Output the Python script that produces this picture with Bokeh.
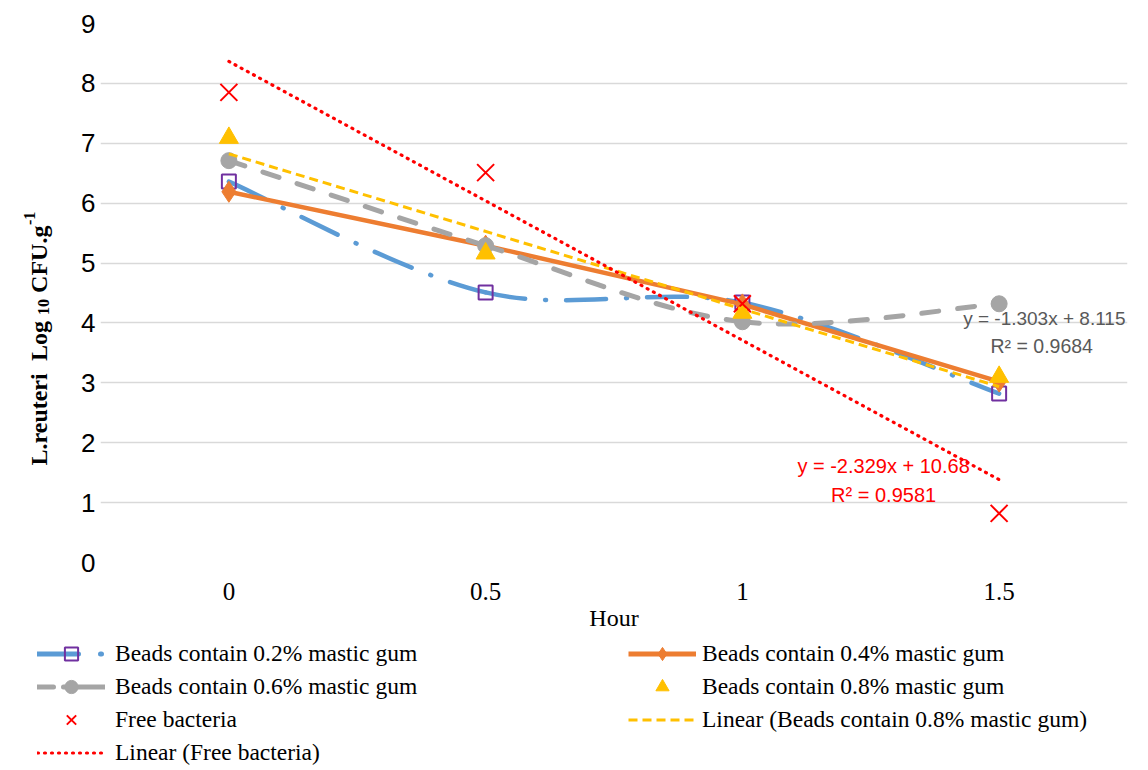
import numpy as np
from math import pi
from bokeh.plotting import figure
from bokeh.layouts import row, column
from bokeh.models import Label, Legend, LegendItem, FixedTicker, Range1d
from bokeh.embed import file_html
from bokeh.resources import INLINE

# ---------------- data ----------------
hours = [0, 0.5, 1, 1.5]
hour_labels = ["0", "0.5", "1", "1.5"]
gum_02 = [6.36, 4.51, 4.34, 2.82]
gum_04 = [6.19, 5.29, 4.31, 3.02]
gum_06 = [6.71, 5.29, 4.02, 4.32]
gum_08 = [7.09, 5.16, 4.17, 3.10]
free_bacteria = [7.85, 6.51, 4.32, 0.82]
y_ticks = [0, 1, 2, 3, 4, 5, 6, 7, 8, 9]
eq_gum_08 = ["y = -1.303x + 8.115", "R² = 0.9684"]
eq_free = ["y = -2.329x + 10.68", "R² = 0.9581"]
series_names = ["Beads contain 0.2% mastic gum", "Beads contain 0.4% mastic gum",
                "Beads contain 0.6% mastic gum", "Beads contain 0.8% mastic gum",
                "Free bacteria", "Linear (Beads contain 0.8% mastic gum)",
                "Linear (Free bacteria)"]
y_title_parts = ["L.reuteri", "Log", "10", "CFU.g", "-1"]

BLUE = "#5B9BD5"
ORANGE = "#ED7D31"
GRAY = "#A5A5A5"
YELLOW = "#FFC000"
RED = "#FF0000"
PURPLE = "#7030A0"

W_ALL = 1148
W_TITLE = 62
H_TOP = 636
H_LEG = 134
TOP, BOTTOM = 23, 74          # frame borders of the main plot
PX_PER_Y = (H_TOP - TOP - BOTTOM) / 9.0


def smooth(xs, ys, t=1.0 / 6.0):
    """Catmull-Rom style smoothing (as spreadsheet 'smoothed line')."""
    xs = np.asarray(xs, float)
    ys = np.asarray(ys, float)
    n = len(xs)
    out = dict(x0=[], y0=[], x1=[], y1=[], cx0=[], cy0=[], cx1=[], cy1=[])
    for i in range(n - 1):
        a = max(i - 1, 0)
        d = min(i + 2, n - 1)
        out["x0"].append(xs[i]); out["y0"].append(ys[i])
        out["x1"].append(xs[i + 1]); out["y1"].append(ys[i + 1])
        out["cx0"].append(xs[i] + (xs[i + 1] - xs[a]) * t)
        out["cy0"].append(ys[i] + (ys[i + 1] - ys[a]) * t)
        out["cx1"].append(xs[i + 1] - (xs[d] - xs[i]) * t)
        out["cy1"].append(ys[i + 1] - (ys[d] - ys[i]) * t)
    return out


# ======================= main plot =======================
p = figure(width=W_ALL - W_TITLE, height=H_TOP, x_range=Range1d(-0.25, 1.75),
           y_range=Range1d(0, 9), output_backend="svg", toolbar_location=None,
           min_border_left=100 - W_TITLE, min_border_right=21, min_border_top=TOP,
           min_border_bottom=BOTTOM)
p.outline_line_color = None
p.background_fill_color = "white"

p.xaxis.ticker = FixedTicker(ticks=hours)
p.xaxis.major_label_overrides = {h: l for h, l in zip(hours, hour_labels)}
p.xaxis.axis_line_color = None
p.xaxis.major_tick_line_color = None
p.xaxis.minor_tick_line_color = None
p.xaxis.major_tick_out = 0
p.xaxis.major_tick_in = 0
p.xaxis.major_label_standoff = 20
p.xaxis.major_label_text_font = "Liberation Serif"
p.xaxis.major_label_text_font_size = "25px"
p.xaxis.major_label_text_color = "black"
p.xaxis.axis_label = "Hour"
p.xaxis.axis_label_text_font = "Liberation Serif"
p.xaxis.axis_label_text_font_size = "24px"
p.xaxis.axis_label_text_font_style = "normal"
p.xaxis.axis_label_text_color = "black"
p.xaxis.axis_label_standoff = 2

p.yaxis.ticker = FixedTicker(ticks=y_ticks)
p.yaxis.axis_line_color = None
p.yaxis.major_tick_line_color = None
p.yaxis.minor_tick_line_color = None
p.yaxis.major_tick_out = 0
p.yaxis.major_tick_in = 0
p.yaxis.major_label_standoff = 5
p.yaxis.major_label_text_font = "Liberation Sans"
p.yaxis.major_label_text_font_size = "26px"
p.yaxis.major_label_text_color = "black"

p.xgrid.grid_line_color = None
p.ygrid.grid_line_color = "#D9D9D9"
p.ygrid.grid_line_width = 1.5

s02 = smooth(hours, gum_02)
p.bezier(x0=s02["x0"], y0=s02["y0"], x1=s02["x1"], y1=s02["y1"],
         cx0=s02["cx0"], cy0=s02["cy0"], cx1=s02["cx1"], cy1=s02["cy1"],
         line_color=BLUE, line_width=4.5, line_dash="40 20 1 20", line_cap="round")
p.scatter(hours, gum_02, marker="square", size=14, line_color=PURPLE, line_width=2,
          fill_color=None)

p.line(hours, gum_04, line_color=ORANGE, line_width=4.5)
p.scatter(hours, gum_04, marker="diamond", size=21, line_color=ORANGE, fill_color=ORANGE)

s06 = smooth(hours, gum_06)
p.bezier(x0=s06["x0"], y0=s06["y0"], x1=s06["x1"], y1=s06["y1"],
         cx0=s06["cx0"], cy0=s06["cy0"], cx1=s06["cx1"], cy1=s06["cy1"],
         line_color=GRAY, line_width=5, line_dash="17 19", line_cap="round")
p.scatter(hours, gum_06, marker="circle", size=16, line_color=GRAY, fill_color=GRAY)

p.scatter(hours, gum_08, marker="triangle", size=19, line_color=YELLOW, fill_color=YELLOW)

p.scatter(hours, free_bacteria, marker="x", size=24, line_color=RED, line_width=2)

# linear trend lines (least squares on the data)
h = np.asarray(hours, float)
k8, b8 = np.polyfit(h, np.asarray(gum_08, float), 1)
kf, bf = np.polyfit(h, np.asarray(free_bacteria, float), 1)
t_ends = [hours[0], hours[-1]]
p.line(t_ends, [k8 * tt + b8 for tt in t_ends], line_color=YELLOW, line_width=3,
       line_dash="9 5")
p.line(t_ends, [kf * tt + bf for tt in t_ends], line_color=RED, line_width=3.2,
       line_dash="1 6", line_cap="round")

eq_style = dict(text_align="center", text_baseline="middle", text_font="Liberation Sans")
p.add_layout(Label(x=1.588, y=4.074, text=eq_gum_08[0], text_color="#595959",
                   text_font_size="19px", **eq_style))
p.add_layout(Label(x=1.583, y=3.623, text=eq_gum_08[1], text_color="#595959",
                   text_font_size="19.5px", **eq_style))
p.add_layout(Label(x=1.275, y=1.603, text=eq_free[0], text_color=RED,
                   text_font_size="20px", **eq_style))
p.add_layout(Label(x=1.275, y=1.135, text=eq_free[1], text_color=RED,
                   text_font_size="20px", **eq_style))

# ======================= y-axis title panel =======================
t = figure(width=W_TITLE, height=H_TOP, x_range=Range1d(0, W_TITLE),
           y_range=Range1d(0, 9), x_axis_type=None, y_axis_type=None,
           output_backend="svg", toolbar_location=None, min_border=0,
           min_border_top=TOP, min_border_bottom=BOTTOM)
t.outline_line_color = None
t.xgrid.visible = False
t.ygrid.visible = False
start_y = 97.0 / PX_PER_Y
# (text, pixel offset along the text, sideways shift, font size)
title_layout = [(y_title_parts[0], 0, 0, "24px"), (y_title_parts[1], 104.6, 0, "24px"),
                (y_title_parts[2], 150.6, 5, "16px"), (y_title_parts[3], 172.6, 0, "24px"),
                (y_title_parts[4], 240.5, -9, "16px")]
for txt, dy, dx, fs in title_layout:
    t.add_layout(Label(x=38 + dx, y=start_y + dy / PX_PER_Y, text=txt, angle=pi / 2,
                       text_align="left", text_baseline="alphabetic",
                       text_font="Liberation Serif", text_font_style="bold",
                       text_font_size=fs, text_color="black"))

# ======================= legend panel =======================
lg = figure(width=W_ALL, height=H_LEG, x_range=Range1d(0, 1), y_range=Range1d(0, 1),
            x_axis_type=None, y_axis_type=None, output_backend="svg",
            toolbar_location=None, min_border=0)
lg.outline_line_color = None
lg.xgrid.visible = False
lg.ygrid.visible = False
off = ([-5, -4], [-5, -5])
r_blue = lg.line(*off, line_color=BLUE, line_width=5, line_dash="41 22 1 20",
                 line_cap="round")
r_sq = lg.scatter([-5], [-5], marker="square", line_color=PURPLE, line_width=2,
                  fill_color=None)
r_orange = lg.line(*off, line_color=ORANGE, line_width=5)
r_dia = lg.scatter([-5], [-5], marker="diamond", line_color=ORANGE, fill_color=ORANGE)
r_gray = lg.line(*off, line_color=GRAY, line_width=5, line_dash="16 10 100",
                 line_cap="round")
r_circ = lg.scatter([-5], [-5], marker="circle", line_color=GRAY, fill_color=GRAY)
r_tri = lg.scatter([-5], [-5], marker="triangle", line_color=YELLOW, fill_color=YELLOW)
r_x = lg.scatter([-5], [-5], marker="x", line_color=RED, line_width=2)
r_t8 = lg.line(*off, line_color=YELLOW, line_width=3, line_dash="9 5")
r_tf = lg.line(*off, line_color=RED, line_width=3.2, line_dash="1 6", line_cap="round")

common = dict(orientation="vertical", glyph_width=68, glyph_height=33, label_height=33,
              spacing=0, padding=0, margin=0, border_line_color=None,
              background_fill_alpha=0, label_text_font="Liberation Serif",
              label_text_font_size="23.5px", label_text_color="black")
leg1 = Legend(items=[
    LegendItem(label=series_names[0], renderers=[r_blue, r_sq]),
    LegendItem(label=series_names[2], renderers=[r_gray, r_circ]),
    LegendItem(label=series_names[4], renderers=[r_x]),
    LegendItem(label=series_names[6], renderers=[r_tf]),
], location=(37, 1), label_standoff=10, **common)
leg2 = Legend(items=[
    LegendItem(label=series_names[1], renderers=[r_orange, r_dia]),
    LegendItem(label=series_names[3], renderers=[r_tri]),
    LegendItem(label=series_names[5], renderers=[r_t8]),
], location=(628, 34), label_standoff=6, **common)
lg.add_layout(leg1)
lg.add_layout(leg2)

layout = column(row(t, p), lg)
open("out.html", "w").write(file_html(layout, INLINE))
